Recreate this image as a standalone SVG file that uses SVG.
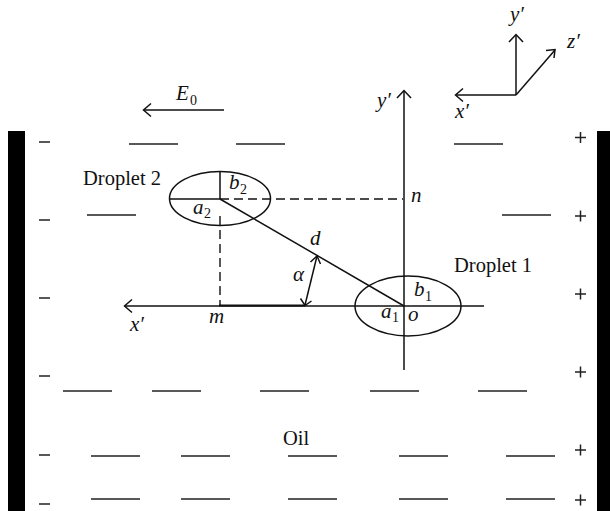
<svg xmlns="http://www.w3.org/2000/svg" width="610" height="511" viewBox="0 0 610 511">
<style>
.l{stroke:#111;stroke-width:1.5;fill:none}
.d{stroke:#222;stroke-width:1.5;fill:none}
.dash{stroke:#111;stroke-width:1.4;fill:none;stroke-dasharray:9 5}
.h{stroke:#111;stroke-width:1.5;fill:none}
.t{font-family:"Liberation Serif",serif;font-size:20.5px;fill:#111}
.i{font-family:"Liberation Serif",serif;font-size:21px;font-style:italic;fill:#111}
.s{font-family:"Liberation Serif",serif;font-size:14px;fill:#111}
</style>
<rect x="8" y="131" width="17" height="380" fill="#000"/>
<rect x="597" y="131" width="13" height="380" fill="#000"/>
<g id="signs">
<path class="d" d="M39 142H50M39 220H50M39 298H50M39 376H50M39 455H50M39 504H50"/>
<path class="d" d="M575 137.500H586M580.500 132V143M575 216H586M580.500 210.500V221.500M575 294H586M580.500 288.500V299.500M575 372H586M580.500 366.500V377.500M575 450H586M580.500 444.500V455.500M575 500H586M580.500 494.500V505.500"/>
</g>
<g id="oil-lines">
<path class="d" d="M129 144H178M236 144H285M454 144H503M87 215H136M502 215H551"/>
<path class="d" stroke-opacity="0.75" d="M63 391H112M152 391H201M260 391H309M370 391H419M478 391H527" style="stroke-width:2"/>
<path class="d" d="M91 456H140M181 456H230M288 456H337M399 456H448M506 456H555M91 499H140M181 499H230M288 499H337M399 499H448M506 499H555"/>
</g>
<g id="connectors">
<path class="l" d="M224 110H144"/><path class="h" d="M151 103.500L143.500 110L151 116.500"/>
<path class="l" d="M516 95H456"/><path class="h" d="M463 88.500L455.500 95L463 101.500"/>
<path class="l" d="M516 95V35"/><path class="h" d="M509 42L516 34.500L523 42"/>
<path class="l" d="M516 95L555 50"/><path class="h" d="M546 50.500L555 49.500L554 58"/>
<path class="l" d="M404 370V91"/><path class="h" d="M397 98L404 90.500L411 98"/>
<path class="l" d="M484 306H125"/><path class="h" d="M132 299.500L124.500 306L132 312.500"/>
<path class="l" d="M219 305.500H305" style="stroke-width:2"/>
<path class="l" d="M220 199L404 306"/>
<path class="dash" d="M220 199H403"/>
<path class="dash" d="M220 216V305"/>
<path class="l" d="M317 256L305 305"/>
<path class="h" d="M310.500 262L317 256L320.500 264"/>
<path class="h" d="M300.500 298.500L305 305.500L311.500 301"/>
</g>
<g id="droplet-2">
<ellipse class="l" cx="220" cy="198.500" rx="50.500" ry="27"/>
<path class="l" d="M169.500 199H220M220 171.500V199"/>
<text class="i" x="229" y="189">b</text><text class="s" x="240" y="194">2</text>
<text class="i" x="193" y="214">a</text><text class="s" x="204" y="218">2</text>
<text class="t" x="83" y="185">Droplet 2</text>
</g>
<g id="droplet-1">
<ellipse class="l" cx="408" cy="306" rx="53" ry="30"/>
<text class="i" x="414" y="296">b</text><text class="s" x="425" y="301">1</text>
<text class="i" x="381" y="318">a</text><text class="s" x="392" y="322">1</text>
<text class="i" x="408" y="321">o</text>
<text class="t" x="454" y="272">Droplet 1</text>
</g>
<g id="labels">
<text class="i" x="176" y="100">E</text><text class="s" x="190" y="105">0</text>
<text class="i" x="510" y="21">y′</text>
<text class="i" x="567" y="48">z′</text>
<text class="i" x="455" y="118">x′</text>
<text class="i" x="377" y="107">y′</text>
<text class="i" x="411" y="202">n</text>
<text class="i" x="310" y="245">d</text>
<text class="i" x="293" y="281">α</text>
<text class="i" x="130" y="331">x′</text>
<text class="i" x="209" y="323">m</text>
<text class="t" x="283" y="445">Oil</text>
</g>
</svg>
